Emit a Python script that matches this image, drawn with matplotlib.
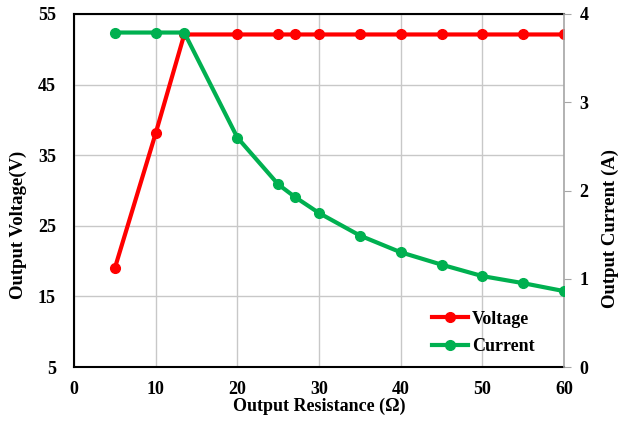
import numpy as np
import matplotlib
matplotlib.use('Agg')
import matplotlib.pyplot as plt

plt.rcParams['font.family'] = ['Liberation Serif', 'DejaVu Serif']
plt.rcParams['font.weight'] = 'bold'

resistance = [5, 10, 13.5, 20, 25, 27, 30, 35, 40, 45, 50, 55, 60]
voltage = [19.0, 38.1, 52.1, 52.1, 52.1, 52.1, 52.1, 52.1, 52.1, 52.1, 52.1, 52.1, 52.1]
current = [3.79, 3.79, 3.79, 2.60, 2.07, 1.93, 1.745, 1.49, 1.30, 1.16, 1.03, 0.95, 0.86]

RED = '#ff0000'
GREEN = '#00b050'
GRID = '#c8c8c8'

fig = plt.figure(figsize=(6.2, 4.24), dpi=100)
ax = fig.add_axes([74 / 620, 1 - 367 / 424, 490 / 620, 353 / 424])
ax2 = ax.twinx()

lv, = ax.plot(resistance, voltage, color=RED, lw=3, marker='o', ms=7,
              label='Voltage', zorder=3)
lc, = ax2.plot(resistance, current, color=GREEN, lw=3, marker='o', ms=7,
               label='Current', zorder=3)

ax.set_xlim(0, 60)
ax.set_ylim(5, 55)
ax.set_xticks(np.arange(0, 61, 10))
ax.set_yticks(np.arange(5, 56, 10))
ax2.set_ylim(0, 4)
ax2.set_yticks(np.arange(0, 5, 1))

ax.grid(True, color=GRID, lw=1)
ax.set_axisbelow(True)

for s in ['left', 'top', 'bottom']:
    ax.spines[s].set_color('black')
    ax.spines[s].set_linewidth(1.5)
ax.spines['right'].set_visible(False)
ax2.spines['right'].set_color('#a6a6a6')
ax2.spines['right'].set_linewidth(1.2)
for s in ['left', 'top', 'bottom']:
    ax2.spines[s].set_visible(False)

ax.tick_params(axis='y', length=0, labelsize=13, pad=13)
ax.tick_params(axis='x', length=0, labelsize=13, pad=10)
ax2.tick_params(axis='y', length=5, color='#a6a6a6', labelsize=13, pad=6)
for lab in ax.get_xticklabels() + ax.get_yticklabels() + ax2.get_yticklabels():
    lab.set_fontweight('bold')

ax.set_xlabel('Output Resistance (Ω)', fontsize=13, fontweight='bold', labelpad=0)
ax.set_ylabel('Output Voltage(V)', fontsize=13.5, fontweight='bold')
ax2.set_ylabel('Output Current (A)', fontsize=13.5, fontweight='bold')
ax.yaxis.set_label_coords((27 - 74) / 490, (367 - 225) / 353)
ax2.yaxis.set_label_coords((602 - 74) / 490, (367 - 228) / 353)

leg = ax2.legend(handles=[lv, lc], loc='center left',
                 bbox_to_anchor=((432 - 74) / 490, (367 - 333) / 353),
                 borderaxespad=0, borderpad=0,
                 frameon=False, fontsize=13, handlelength=2.0, handletextpad=0.2,
                 labelspacing=0.6)
for t in leg.get_texts():
    t.set_fontweight('bold')

fig.savefig('out.png', dpi=100)
